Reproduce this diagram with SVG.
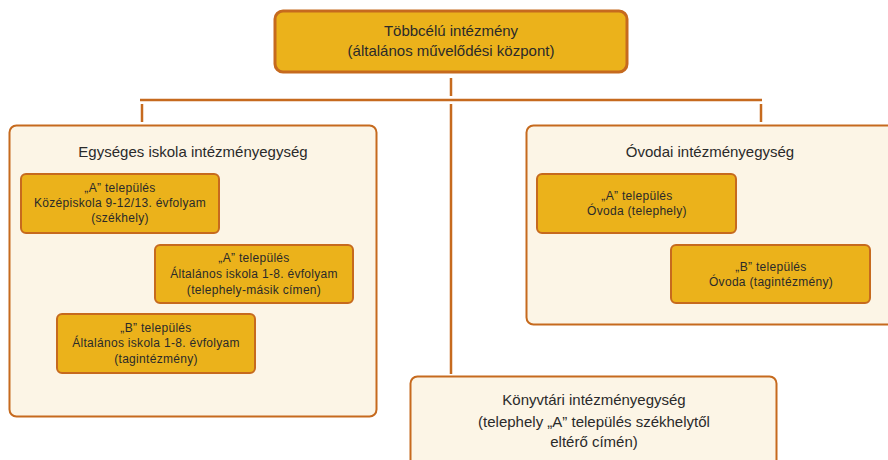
<svg xmlns="http://www.w3.org/2000/svg" width="888" height="460" viewBox="0 0 888 460">
<style>
.gold{fill:#ebb21b;stroke:#c66a1e;stroke-width:2}
.top{fill:#ebb21b;stroke:#c66a1e;stroke-width:3}
.pale{fill:#fcf5e6;stroke:#c66a1e;stroke-width:2}
.ln{stroke:#c66a1e;stroke-width:2.5;fill:none}
text{font-family:"Liberation Sans",Arial,sans-serif;fill:#2a2a2a;text-anchor:middle}
.t1{font-size:15px}
.t2{font-size:12px;letter-spacing:0.3px}
</style>
<rect width="888" height="460" fill="#ffffff"/>
<g id="connectors">
<line class="ln" x1="451" y1="78" x2="451" y2="96"/>
<line class="ln" x1="140" y1="100" x2="762" y2="100"/>
<line class="ln" x1="142" y1="104" x2="142" y2="122"/>
<line class="ln" x1="761" y1="104" x2="761" y2="122"/>
<line class="ln" x1="451" y1="104" x2="451" y2="374"/>
</g>
<g id="root">
<rect class="top" x="275" y="11" width="352" height="61" rx="8"/>
<text class="t1" x="451" y="36">Többcélú intézmény</text>
<text class="t1" x="451" y="56">(általános művelődési központ)</text>
</g>
<g id="school">
<rect class="pale" x="9.5" y="125.5" width="367" height="291" rx="7"/>
<text class="t1" x="193" y="157">Egységes iskola intézményegység</text>
</g>
<g id="school-a-sec">
<rect class="gold" x="21" y="174" width="198" height="59" rx="5"/>
<text class="t2" x="120" y="192">„A” település</text>
<text class="t2" x="120" y="207">Középiskola 9-12/13. évfolyam</text>
<text class="t2" x="120" y="222">(székhely)</text>
</g>
<g id="school-a-prim">
<rect class="gold" x="155" y="245" width="198" height="58" rx="5"/>
<text class="t2" x="254" y="262">„A” település</text>
<text class="t2" x="254" y="278">Általános iskola 1-8. évfolyam</text>
<text class="t2" x="254" y="294">(telephely-másik címen)</text>
</g>
<g id="school-b-prim">
<rect class="gold" x="57" y="314" width="198" height="59" rx="5"/>
<text class="t2" x="156" y="332">„B” település</text>
<text class="t2" x="156" y="347">Általános iskola 1-8. évfolyam</text>
<text class="t2" x="156" y="363">(tagintézmény)</text>
</g>
<g id="kindergarten">
<rect class="pale" x="526.5" y="125.5" width="368" height="199" rx="7"/>
<text class="t1" x="710" y="157">Óvodai intézményegység</text>
</g>
<g id="kg-a">
<rect class="gold" x="537" y="174" width="199" height="59" rx="5"/>
<text class="t2" x="637" y="200">„A” település</text>
<text class="t2" x="637" y="215">Óvoda (telephely)</text>
</g>
<g id="kg-b">
<rect class="gold" x="671" y="245" width="199" height="58" rx="5"/>
<text class="t2" x="771" y="271">„B” település</text>
<text class="t2" x="771" y="286">Óvoda (tagintézmény)</text>
</g>
<g id="library">
<rect class="pale" x="410.5" y="376.5" width="366" height="95" rx="7"/>
<text class="t1" x="594" y="405">Könyvtári intézményegység</text>
<text class="t1" x="594" y="427">(telephely „A” település székhelytől</text>
<text class="t1" x="594" y="447">eltérő címén)</text>
</g>
</svg>
